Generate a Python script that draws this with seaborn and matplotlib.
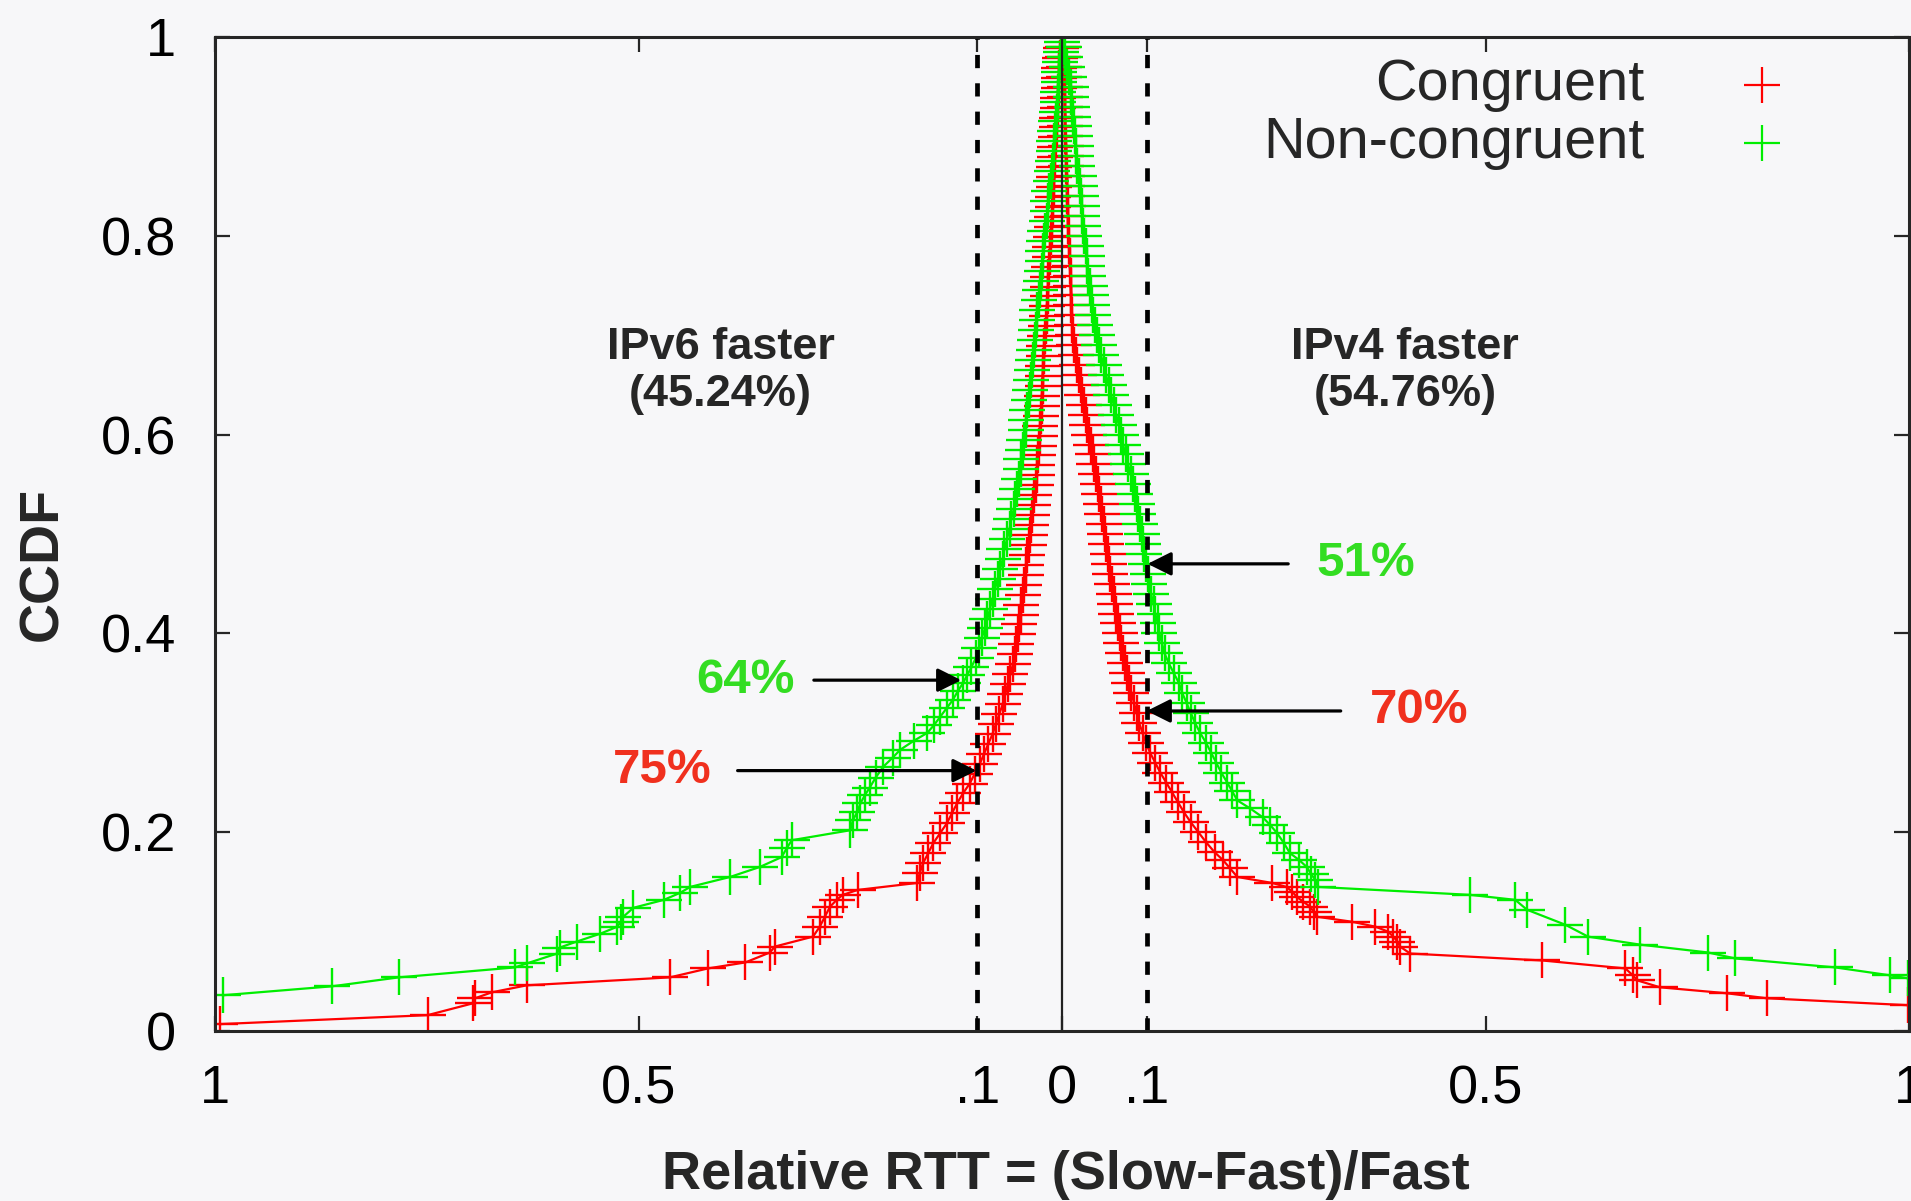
import matplotlib
matplotlib.use("Agg")
import matplotlib.pyplot as plt
import pandas as pd
import seaborn as sns

# ---------------- data ----------------
# Relative RTT = (Slow-Fast)/Fast, CCDF per side.
# "v6" side: IPv6 faster (drawn to the left of 0), "v4" side: IPv4 faster (right of 0).

cong_v6_rtt = [0.994, 0.749, 0.695, 0.693, 0.673, 0.632, 0.463, 0.418, 0.374, 0.345,
               0.339, 0.294, 0.286, 0.280, 0.274, 0.266, 0.259, 0.241, 0.171, 0.168,
               0.164, 0.158, 0.152, 0.144, 0.136, 0.130, 0.124, 0.117, 0.109,
               0.103, 0.097, 0.092, 0.087, 0.082, 0.078, 0.074, 0.070, 0.067, 0.064,
               0.061, 0.058, 0.056, 0.054, 0.052, 0.051, 0.049, 0.048, 0.046, 0.045,
               0.043, 0.042, 0.041, 0.039, 0.038, 0.037, 0.035, 0.034, 0.033, 0.031,
               0.030, 0.029, 0.028, 0.027, 0.026, 0.026, 0.025, 0.024, 0.024, 0.023,
               0.023, 0.022, 0.021, 0.021, 0.020, 0.019, 0.018, 0.018, 0.017, 0.016,
               0.016, 0.015, 0.014, 0.014, 0.013, 0.012, 0.012, 0.011, 0.011, 0.010,
               0.009, 0.009, 0.008, 0.008, 0.007, 0.006, 0.006, 0.005, 0.005, 0.004,
               0.003, 0.003, 0.002, 0.001, 0.000]
cong_v6_ccdf = [0.007, 0.016, 0.028, 0.033, 0.039, 0.046, 0.054, 0.063, 0.069, 0.079,
                0.085, 0.095, 0.105, 0.115, 0.125, 0.132, 0.137, 0.142, 0.149, 0.159,
                0.169, 0.179, 0.189, 0.199, 0.209, 0.219, 0.229, 0.239, 0.249,
                0.259, 0.269, 0.279, 0.289, 0.299, 0.309, 0.319, 0.329, 0.339, 0.349,
                0.359, 0.369, 0.379, 0.389, 0.399, 0.409, 0.419, 0.429, 0.439, 0.449,
                0.459, 0.469, 0.479, 0.489, 0.499, 0.509, 0.519, 0.529, 0.539, 0.549,
                0.559, 0.569, 0.579, 0.589, 0.599, 0.609, 0.619, 0.629, 0.639, 0.649,
                0.659, 0.669, 0.679, 0.689, 0.699, 0.709, 0.719, 0.729, 0.739, 0.749,
                0.759, 0.769, 0.779, 0.789, 0.799, 0.809, 0.819, 0.829, 0.839, 0.849,
                0.859, 0.869, 0.879, 0.889, 0.899, 0.909, 0.919, 0.929, 0.939, 0.949,
                0.959, 0.969, 0.979, 0.989, 1.000]

cong_v4_rtt = [0.000, 0.001, 0.001, 0.002, 0.002, 0.003, 0.003, 0.003, 0.004, 0.004,
               0.004, 0.005, 0.005, 0.005, 0.006, 0.006, 0.006, 0.007, 0.007, 0.007,
               0.008, 0.008, 0.009, 0.009, 0.010, 0.010, 0.011, 0.011, 0.012, 0.012,
               0.013, 0.014, 0.016, 0.018, 0.020, 0.022, 0.024, 0.026, 0.028, 0.030,
               0.032, 0.034, 0.036, 0.038, 0.040, 0.042, 0.044, 0.046, 0.047, 0.049,
               0.051, 0.052, 0.054, 0.056, 0.057, 0.059, 0.061, 0.062, 0.064, 0.066,
               0.068, 0.070, 0.072, 0.074, 0.077, 0.079, 0.082, 0.085, 0.088, 0.091,
               0.095, 0.099, 0.104, 0.110, 0.116, 0.123, 0.130, 0.137, 0.144, 0.152,
               0.161, 0.170, 0.180,
               0.190, 0.198, 0.207, 0.248, 0.265, 0.272, 0.277, 0.285, 0.293, 0.297,
               0.301, 0.342, 0.370, 0.385, 0.391, 0.396, 0.399, 0.411, 0.567, 0.665,
               0.674, 0.679, 0.706, 0.785, 0.832, 0.999]
cong_v4_ccdf = [1.00, 0.99, 0.98, 0.97, 0.96, 0.95, 0.94, 0.93, 0.92, 0.91,
                0.90, 0.89, 0.88, 0.87, 0.86, 0.85, 0.84, 0.83, 0.82, 0.81,
                0.80, 0.79, 0.78, 0.77, 0.76, 0.75, 0.74, 0.73, 0.72, 0.71,
                0.70, 0.69, 0.68, 0.67, 0.66, 0.65, 0.64, 0.63, 0.62, 0.61,
                0.60, 0.59, 0.58, 0.57, 0.56, 0.55, 0.54, 0.53, 0.52, 0.51,
                0.50, 0.49, 0.48, 0.47, 0.46, 0.45, 0.44, 0.43, 0.42, 0.41,
                0.40, 0.39, 0.38, 0.37, 0.36, 0.35, 0.34, 0.33, 0.32, 0.31,
                0.30, 0.29, 0.28, 0.27, 0.26, 0.25, 0.24, 0.23, 0.22, 0.21,
                0.20, 0.19, 0.18,
                0.172, 0.164, 0.155, 0.149, 0.145, 0.140, 0.135, 0.130, 0.125, 0.120,
                0.115, 0.110, 0.105, 0.100, 0.095, 0.090, 0.085, 0.078, 0.071, 0.063,
                0.056, 0.051, 0.044, 0.038, 0.033, 0.026]

noncong_v6_rtt = [0.991, 0.862, 0.783, 0.646, 0.632, 0.596, 0.593, 0.573, 0.545, 0.525,
                  0.521, 0.518, 0.506, 0.470, 0.451, 0.439, 0.392, 0.357, 0.331, 0.325,
                  0.319, 0.250, 0.247, 0.242, 0.238, 0.233, 0.227, 0.220, 0.211, 0.200,
                  0.191, 0.175, 0.159, 0.151, 0.144, 0.136, 0.129, 0.123, 0.117, 0.112,
                  0.107, 0.102,
                  0.098, 0.095, 0.091, 0.088, 0.085, 0.082, 0.079, 0.076, 0.073, 0.070,
                  0.068, 0.065, 0.062, 0.060, 0.057, 0.055, 0.053, 0.051, 0.049, 0.048,
                  0.046, 0.045, 0.043, 0.042, 0.041, 0.039, 0.038, 0.037, 0.035, 0.034,
                  0.033, 0.032, 0.031, 0.030, 0.029, 0.027, 0.026, 0.025, 0.024, 0.023,
                  0.022, 0.021, 0.020, 0.018, 0.017, 0.016, 0.015, 0.013, 0.012, 0.011,
                  0.010, 0.009, 0.008, 0.007, 0.006, 0.005, 0.005, 0.004, 0.003, 0.002,
                  0.001, 0.000]
noncong_v6_ccdf = [0.036, 0.045, 0.054, 0.064, 0.068, 0.078, 0.084, 0.090, 0.098, 0.105,
                   0.110, 0.115, 0.124, 0.132, 0.139, 0.145, 0.155, 0.165, 0.175, 0.184,
                   0.192, 0.202, 0.212, 0.220, 0.229, 0.237, 0.245, 0.255, 0.266, 0.275,
                   0.283, 0.292, 0.300, 0.308, 0.316, 0.325, 0.333, 0.342, 0.350, 0.358,
                   0.366, 0.375,
                   0.385, 0.395, 0.405, 0.415, 0.425, 0.435, 0.445, 0.455, 0.465, 0.475,
                   0.485, 0.495, 0.505, 0.515, 0.525, 0.535, 0.545, 0.555, 0.565, 0.575,
                   0.585, 0.595, 0.605, 0.615, 0.625, 0.635, 0.645, 0.655, 0.665, 0.675,
                   0.685, 0.695, 0.705, 0.715, 0.725, 0.735, 0.745, 0.755, 0.765, 0.775,
                   0.785, 0.795, 0.805, 0.815, 0.825, 0.835, 0.845, 0.855, 0.865, 0.875,
                   0.885, 0.895, 0.905, 0.915, 0.925, 0.935, 0.945, 0.955, 0.965, 0.975,
                   0.985, 0.995]

noncong_v4_rtt = [0.000, 0.002, 0.004, 0.006, 0.008, 0.010, 0.011, 0.012, 0.013, 0.014,
                  0.015, 0.016, 0.017, 0.018, 0.020, 0.021, 0.022, 0.023, 0.024, 0.025,
                  0.026, 0.028, 0.029, 0.030, 0.031, 0.033, 0.034, 0.035, 0.037, 0.039,
                  0.041, 0.044, 0.046, 0.049, 0.052, 0.055, 0.058, 0.061, 0.064, 0.067,
                  0.070, 0.072, 0.075, 0.078, 0.081, 0.084, 0.086, 0.088, 0.090, 0.092,
                  0.094, 0.096, 0.097, 0.099, 0.101, 0.103, 0.105, 0.108, 0.110, 0.113,
                  0.115, 0.118, 0.121, 0.126, 0.132, 0.138, 0.142, 0.147, 0.152, 0.157,
                  0.163, 0.170, 0.176, 0.182, 0.188, 0.195,
                  0.201, 0.207, 0.222, 0.237, 0.246, 0.254, 0.262, 0.269, 0.280, 0.289,
                  0.294, 0.299, 0.302, 0.482, 0.535, 0.549, 0.594, 0.621, 0.682, 0.763,
                  0.795, 0.913, 0.978, 0.999]
noncong_v4_ccdf = [1.00, 0.99, 0.98, 0.97, 0.96, 0.95, 0.94, 0.93, 0.92, 0.91,
                   0.90, 0.89, 0.88, 0.87, 0.86, 0.85, 0.84, 0.83, 0.82, 0.81,
                   0.80, 0.79, 0.78, 0.77, 0.76, 0.75, 0.74, 0.73, 0.72, 0.71,
                   0.70, 0.69, 0.68, 0.67, 0.66, 0.65, 0.64, 0.63, 0.62, 0.61,
                   0.60, 0.59, 0.58, 0.57, 0.56, 0.55, 0.54, 0.53, 0.52, 0.51,
                   0.50, 0.49, 0.48, 0.47, 0.46, 0.45, 0.44, 0.43, 0.42, 0.41,
                   0.40, 0.39, 0.38, 0.37, 0.36, 0.35, 0.34, 0.33, 0.32, 0.31,
                   0.30, 0.29, 0.28, 0.27, 0.26, 0.25,
                   0.241, 0.232, 0.224, 0.215, 0.207, 0.199, 0.189, 0.179, 0.172, 0.165,
                   0.158, 0.152, 0.145, 0.137, 0.132, 0.122, 0.107, 0.095, 0.087, 0.079,
                   0.073, 0.064, 0.056, 0.053]

series_names = ["Congruent", "Non-congruent"]
series_colors = ["#ff0000", "#00ee00"]
label_colors = ["#f0301e", "#33dd22"]

x_ticks = [-1, -0.5, -0.1, 0, 0.1, 0.5, 1]
x_tick_labels = ["1", "0.5", ".1", "0", ".1", "0.5", "1"]
y_ticks = [0, 0.2, 0.4, 0.6, 0.8, 1]
y_tick_labels = ["0", "0.2", "0.4", "0.6", "0.8", "1"]

share_v6 = "45.24%"
share_v4 = "54.76%"

# ----------------- frames -----------------
def curve_frame(v6_rtt, v6_ccdf, v4_rtt, v4_ccdf):
    # IPv6-faster side is mirrored onto negative positions
    pos = [-r for r in v6_rtt] + list(v4_rtt)
    ccdf = list(v6_ccdf) + list(v4_ccdf)
    return pd.DataFrame({"pos": pos, "ccdf": ccdf})

frames = [
    curve_frame(cong_v6_rtt, cong_v6_ccdf, cong_v4_rtt, cong_v4_ccdf),
    curve_frame(noncong_v6_rtt, noncong_v6_ccdf, noncong_v4_rtt, noncong_v4_ccdf),
]

# ----------------- style -----------------
sns.set_theme(style="ticks")
bg = "#f7f7f9"
plt.rcParams["font.family"] = ["Liberation Sans", "DejaVu Sans"]
plt.rcParams["axes.linewidth"] = 2.2
plt.rcParams["axes.edgecolor"] = "#262626"

fig = plt.figure(figsize=(19.11, 12.01), dpi=100, facecolor=bg)
ax = fig.add_axes([0.1125, 0.1415, 0.8865, 0.8277])
ax.set_facecolor(bg)

for df, color in zip(frames, series_colors):
    sns.lineplot(data=df, x="pos", y="ccdf", ax=ax, sort=False, estimator=None,
                 color=color, linewidth=1.6, marker="+", markersize=26,
                 markeredgewidth=1.7, markeredgecolor=color, zorder=3)

# reference lines
ax.axvline(0, color="#222222", lw=1.6, zorder=4)
for xv in (-0.1, 0.1):
    ax.axvline(xv, color="black", lw=3.4, linestyle=(0, (2.8, 3.2)), zorder=5)

ax.set_xlim(-1, 1)
ax.set_ylim(0, 1)
ax.set_xticks(x_ticks)
ax.set_xticklabels(x_tick_labels)
ax.set_yticks(y_ticks)
ax.set_yticklabels(y_tick_labels)
ax.tick_params(axis="both", direction="in", length=11, width=1.6, color="#262626",
               labelsize=39, labelcolor="black", top=True, right=True)
ax.tick_params(axis="y", pad=28)
ax.tick_params(axis="x", pad=24)
ax.set_xlabel("")
ax.set_ylabel("")
for s in ax.spines.values():
    s.set_visible(True)
    s.set_zorder(6)

# axis titles
ax.text(-0.1015, 0.47, "CCDF", transform=ax.transAxes, rotation=90,
        ha="center", va="center", fontsize=40, fontweight="bold")
ax.text(0.502, -0.145, "Relative RTT = (Slow-Fast)/Fast", transform=ax.transAxes,
        ha="center", va="center", fontsize=39, fontweight="bold")

# side annotations
ax.text(-0.403, 0.664, f"IPv6 faster\n({share_v6})", ha="center", va="center",
        fontsize=32.5, fontweight="bold", linespacing=1.2)
ax.text(0.405, 0.664, f"IPv4 faster\n({share_v4})", ha="center", va="center",
        fontsize=32.5, fontweight="bold", linespacing=1.2)

arrow_kw = dict(arrowstyle="-|>,head_length=0.6,head_width=0.3", color="black",
                lw=2.3, mutation_scale=24, shrinkA=0, shrinkB=0)
callouts = [
    ("64%", label_colors[1], (-0.374, 0.353), (-0.293, 0.353), (-0.119, 0.353)),
    ("75%", label_colors[0], (-0.472, 0.262), (-0.383, 0.262), (-0.101, 0.262)),
    ("51%", label_colors[1], (0.359, 0.470), (0.267, 0.470), (0.101, 0.470)),
    ("70%", label_colors[0], (0.421, 0.322), (0.329, 0.322), (0.100, 0.322)),
]
for txt, col, tpos, tail, head in callouts:
    ax.text(tpos[0], tpos[1], txt, color=col, ha="center", va="center",
            fontsize=35.5, fontweight="bold")
    ax.annotate("", xy=head, xytext=tail, arrowprops=arrow_kw, zorder=6)

# key, text right-aligned with the glyph after it
for i, (name, color) in enumerate(zip(series_names, series_colors)):
    yk = 0.952 - i * 0.059
    ax.text(0.844, yk, name, transform=ax.transAxes, ha="right", va="center",
            fontsize=41.5)
    ax.plot([0.913], [yk], transform=ax.transAxes, marker="+", markersize=26,
            markeredgewidth=1.6, color=color, linestyle="none")

fig.savefig("out.png", dpi=100, facecolor=bg)
